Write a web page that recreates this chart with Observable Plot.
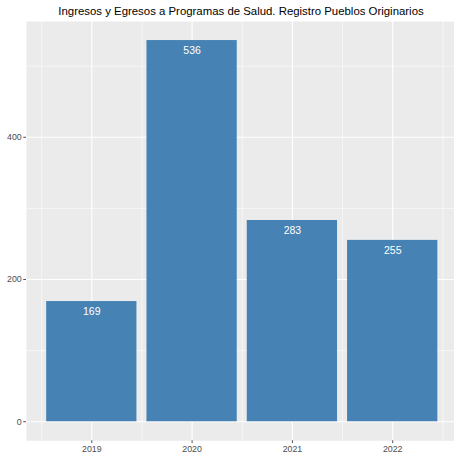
<!DOCTYPE html>
<html>
<head>
<meta charset="utf-8">
<script src="https://cdn.jsdelivr.net/npm/d3@7"></script>
<script src="https://cdn.jsdelivr.net/npm/@observablehq/plot@0.6"></script>
<style>
  html, body { margin: 0; padding: 0; background: #ffffff; width: 454px; height: 454px; overflow: hidden; }
  #title { width: 454px; height: 20px; font-family: "Liberation Sans", Arial, sans-serif; font-size: 11.4px; color: #000; text-align: center; line-height: 23px; padding-left: 28px; box-sizing: border-box; white-space: nowrap; }
  #chart svg { display: block; overflow: visible; }
</style>
</head>
<body>
<div id="title">Ingresos y Egresos a Programas de Salud. Registro Pueblos Originarios</div>
<div id="chart"></div>
<script>
const years = [2019, 2020, 2021, 2022];
const values = [169, 536, 283, 255];
const yMajor = [0, 200, 400];
const yMinor = [100, 300, 500];
const xMinor = [2018.5, 2019.5, 2020.5, 2021.5, 2022.5];

const data = years.map((y, i) => ({year: y, value: values[i]}));

const plot = Plot.plot({
  width: 454,
  height: 434,
  marginTop: 1,
  marginBottom: 13.7,
  marginLeft: 26,
  marginRight: 0,
  style: {fontFamily: "Liberation Sans, Arial, sans-serif", background: "transparent"},
  x: {domain: [2018.349, 2022.616], axis: null, label: null},
  y: {domain: [-26.8, 562.8], axis: null, label: null},
  marks: [
    Plot.frame({fill: "#EBEBEB", stroke: null}),
    Plot.ruleY(yMinor, {stroke: "#ffffff", strokeWidth: 0.55}),
    Plot.ruleX(xMinor, {stroke: "#ffffff", strokeWidth: 0.55}),
    Plot.ruleY(yMajor, {stroke: "#ffffff", strokeWidth: 1.1}),
    Plot.ruleX(years, {stroke: "#ffffff", strokeWidth: 1.1}),
    Plot.rectY(data, {x1: d => d.year - 0.45, x2: d => d.year + 0.45, y1: 0, y2: "value", fill: "steelblue"}),
    Plot.text(data, {x: "year", y: "value", text: d => String(d.value), dy: 10, fill: "#ffffff", fontSize: 10.5}),
    Plot.axisY(yMajor, {tickSize: 2.75, tickPadding: 2, fontSize: 8.8, color: "#4D4D4D", label: null, tickFormat: d => String(d)}),
    Plot.axisX(years, {tickSize: 2.75, tickPadding: 2, fontSize: 8.8, color: "#4D4D4D", label: null, tickFormat: d => String(d)})
  ]
});
document.getElementById("chart").appendChild(plot);
</script>
</body>
</html>
